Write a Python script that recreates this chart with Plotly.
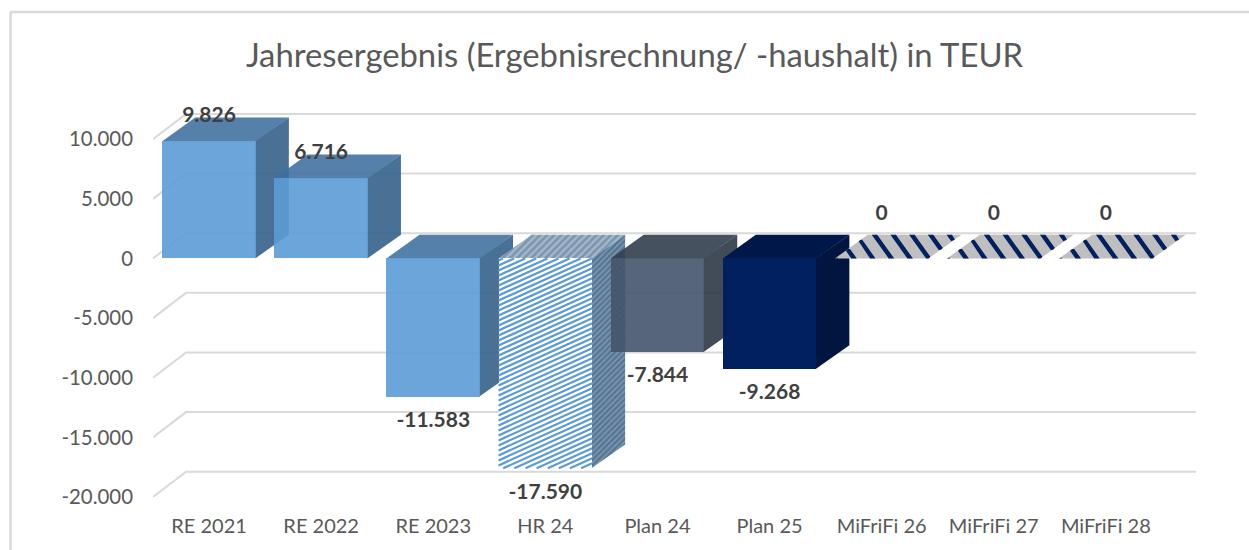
import plotly.graph_objects as go

categories = ["RE 2021", "RE 2022", "RE 2023", "HR 24", "Plan 24", "Plan 25",
              "MiFriFi 26", "MiFriFi 27", "MiFriFi 28"]
values = [9826, 6716, -11583, -17590, -7844, -9268, 0, 0, 0]
value_labels = ["9.826", "6.716", "-11.583", "-17.590", "-7.844", "-9.268", "0", "0", "0"]
axis_values = [-20000, -15000, -10000, -5000, 0, 5000, 10000]
axis_labels = ["-20.000", "-15.000", "-10.000", "-5.000", "0", "5.000", "10.000"]

FRONT = ["rgba(91,155,213,0.90)", "rgba(91,155,213,0.90)", "rgba(91,155,213,0.90)", "#ffffff",
         "rgba(68,84,106,0.90)", "#002060", "#bfbfbf", "#bfbfbf", "#bfbfbf"]
TOP = ["rgba(62,110,158,0.88)", "rgba(62,110,158,0.88)", "rgba(62,110,158,0.88)", "#9fb4c8",
       "rgba(50,62,78,0.90)", "#00174a", "#bfbfbf", "#bfbfbf", "#bfbfbf"]
SIDE = ["rgba(53,96,138,0.90)", "rgba(53,96,138,0.90)", "rgba(53,96,138,0.90)", "#b9c3cc",
        "rgba(45,56,70,0.90)", "#001540", "#bfbfbf", "#bfbfbf", "#bfbfbf"]

BAR_W = 0.835
PX_X = 112.1          # px per category
PX_V = 0.01193        # px per value unit
DX = 33 / PX_X        # depth offset in category units
DY = 2000             # depth offset in value units (bars)
DY_GRID = 2120
XR = [-0.5, 8.804]
YR = [-20000, 12200]
L, R, T, B = 153, 1249 - 1196, 113, 53
GRID = "#d9d9d9"
HATCH = 3
SEAM = 0.006

fig = go.Figure()

# oblique and back gridlines
gx, gy = [], []
for v in axis_values:
    gx += [XR[0], XR[0] + DX, XR[1], None]
    gy += [v, v + DY_GRID, v + DY_GRID, None]
fig.add_trace(go.Scatter(x=gx, y=gy, mode="lines", line=dict(color=GRID, width=2),
                         hoverinfo="skip", showlegend=False, cliponaxis=False))

# depth faces of the bars, drawn behind the front faces
for i, v in enumerate(values):
    hi, lo = max(v, 0), min(v, 0)
    x0, x1 = i - BAR_W / 2, i + BAR_W / 2
    top_x = [x0, x1, x1 + DX, x0 + DX, x0]
    top_y = [hi, hi, hi + DY, hi + DY, hi]
    side_x = [x1 - SEAM, x1 + DX, x1 + DX, x1 - SEAM, x1 - SEAM]
    side_y = [lo, lo + DY, hi + DY, hi, lo]
    if i == HATCH:
        side_pat = dict(shape="/", fgcolor="#1f5588", bgcolor="#8296a9", size=4, solidity=0.6)
        top_pat = dict(shape="/", fgcolor="#3f78b0", bgcolor="#aeb7c1", size=5, solidity=0.55)
    else:
        side_pat = top_pat = None
    if v != 0:
        fig.add_trace(go.Scatter(x=side_x, y=side_y, mode="lines", fill="toself",
                                 fillcolor=SIDE[i], line=dict(width=0), fillpattern=side_pat,
                                 hoverinfo="skip", showlegend=False))
    fig.add_trace(go.Scatter(x=top_x, y=top_y, mode="lines", fill="toself",
                             fillcolor=TOP[i], line=dict(width=0), fillpattern=top_pat,
                             hoverinfo="skip", showlegend=False))
    if v == 0:
        # slanted navy stripes on the flat zero-height bars
        sx, sy = [], []
        k, w, period = 17 / PX_X, 5.5 / PX_X, 18.7 / PX_X
        a = x0 - 0.02
        while a < x1 + DX + k:
            left, right = [], []
            for s in range(26):
                f = s / 25
                lo_x = max(x0 + f * DX, a - f * k)
                hi_x = min(x1 + f * DX, a + w - f * k)
                if hi_x > lo_x:
                    left.append((lo_x, f))
                    right.append((hi_x, f))
            if left:
                poly = left + right[::-1] + left[:1]
                sx += [p[0] for p in poly] + [None]
                sy += [p[1] * DY for p in poly] + [None]
            a += period
        fig.add_trace(go.Scatter(x=sx, y=sy, mode="lines", fill="toself", fillcolor="#002060",
                                 line=dict(width=0), hoverinfo="skip", showlegend=False))

# front faces
fig.add_trace(go.Bar(x=list(range(len(values))), y=values, width=BAR_W, xaxis="x2", yaxis="y2",
                     marker=dict(color=FRONT, line=dict(width=0)),
                     hoverinfo="x+y", showlegend=False))

# shallow hatching on the front of the hatched bar
slope = 0.45 * PX_X / PX_V      # value units per category
spacing = 5.0 / PX_V
hi, lo = max(values[HATCH], 0), min(values[HATCH], 0)
x0, x1 = HATCH - BAR_W / 2, HATCH + BAR_W / 2
hx, hy = [], []
c = lo - slope * BAR_W
while c < hi:
    xa = max(x0, x0 + (lo - c) / slope)
    xb = min(x1, x0 + (hi - c) / slope)
    if xb > xa:
        hx += [xa, xb, None]
        hy += [c + slope * (xa - x0), c + slope * (xb - x0), None]
    c += spacing
fig.add_trace(go.Scatter(x=hx, y=hy, mode="lines", xaxis="x2", yaxis="y2",
                         line=dict(color="#5b9bd5", width=2.2),
                         hoverinfo="skip", showlegend=False))

# data labels
label_y = [v + 2050 if v > 0 else (v - 2100 if v < 0 else 3650) for v in values]
fig.add_trace(go.Scatter(x=list(range(len(values))), y=label_y, mode="text", text=value_labels,
                         textposition="middle center", xaxis="x2", yaxis="y2", cliponaxis=False,
                         textfont=dict(family="Lato", size=21, color="#404040", weight="bold"),
                         hoverinfo="skip", showlegend=False))

px = lambda p: (p - L) / (1249 - L - R)
py = lambda p: (550 - B - p) / (550 - T - B)
border = dict(color=GRID, width=2.5)

fig.update_layout(
    width=1249, height=550, margin=dict(l=L, r=R, t=T, b=B, pad=0, autoexpand=False),
    paper_bgcolor="#ffffff", plot_bgcolor="rgba(0,0,0,0)", bargap=0,
    title=dict(text="Jahresergebnis (Ergebnisrechnung/ -haushalt) in TEUR",
               x=634.5 / 1249, xanchor="center", y=1 - 56 / 550, yanchor="middle",
               font=dict(family="Lato", size=32.8, color="#595959")),
    xaxis=dict(range=XR, tickvals=list(range(len(categories))), ticktext=categories,
               showgrid=False, zeroline=False, showline=False, ticks="", ticklabelstandoff=15,
               tickfont=dict(family="Lato", size=20, color="#595959")),
    yaxis=dict(range=YR, tickvals=axis_values, ticktext=axis_labels, showgrid=False,
               zeroline=False, showline=False, ticks="", ticklabelstandoff=19,
               tickfont=dict(family="Lato", size=20.4, color="#595959")),
    xaxis2=dict(range=XR, overlaying="x", visible=False),
    yaxis2=dict(range=YR, overlaying="y", visible=False),
    shapes=[
        dict(type="line", xref="paper", yref="paper", x0=px(10.5), x1=px(10.5), y0=py(12), y1=py(550), line=border),
        dict(type="line", xref="paper", yref="paper", x0=px(10.5), x1=px(1249), y0=py(12), y1=py(12), line=border),
    ],
)

fig.write_html("out.html", config=dict(displayModeBar=False),
               post_script="document.body.style.margin='0';document.body.style.overflow='hidden';")
